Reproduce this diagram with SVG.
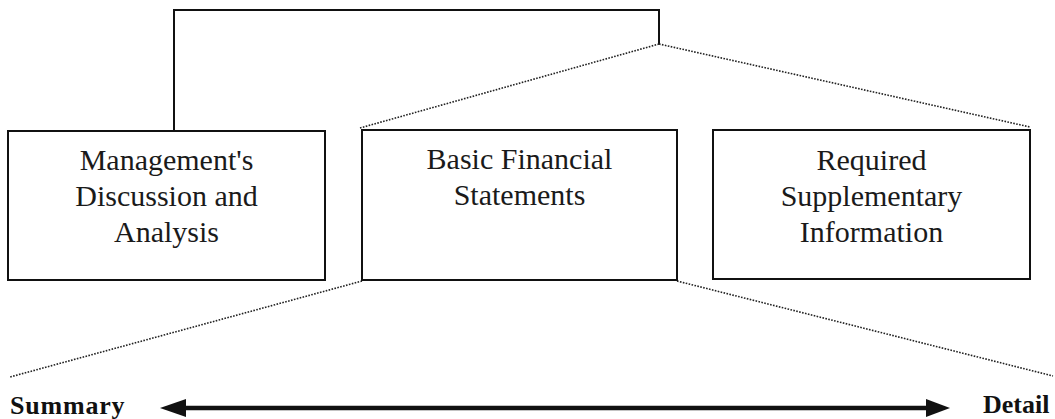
<svg xmlns="http://www.w3.org/2000/svg" width="1055" height="419" viewBox="0 0 1055 419">
<style>
.box{fill:#fff;stroke:#111;stroke-width:2}
.lbl{font-family:"Liberation Serif","Times New Roman",serif;font-size:30px;fill:#1a1a1a;text-anchor:middle}
.end{font-family:"Liberation Serif","Times New Roman",serif;font-size:26px;font-weight:bold;fill:#111}
.solid{fill:none;stroke:#111;stroke-width:2}
.dot{fill:none;stroke:#222;stroke-width:1.6;stroke-dasharray:1.6 1.4}
</style>
<rect width="1055" height="419" fill="#fff"/>
<g id="connectors">
<polyline class="solid" points="174,131 174,10 659,10 659,44"/>
<line class="dot" x1="659" y1="44" x2="360" y2="128"/>
<line class="dot" x1="659" y1="44" x2="1030" y2="127"/>
<line class="dot" x1="362" y1="281" x2="10" y2="377"/>
<line class="dot" x1="677" y1="281" x2="1053" y2="376"/>
<g id="scale-arrow">
<line x1="182" y1="408" x2="930" y2="408" stroke="#111" stroke-width="4.5"/>
<polygon points="160,408 186,399 186,417" fill="#111"/>
<polygon points="950,408 926,399 926,417" fill="#111"/>
</g>
</g>
<g id="mda">
<rect class="box" x="8" y="131" width="317" height="149"/>
<text class="lbl" x="166.5" y="170">Management's</text>
<text class="lbl" x="166.5" y="206">Discussion and</text>
<text class="lbl" x="166.5" y="242">Analysis</text>
</g>
<g id="bfs">
<rect class="box" x="362" y="130" width="315" height="150"/>
<text class="lbl" x="519.5" y="169">Basic Financial</text>
<text class="lbl" x="519.5" y="205">Statements</text>
</g>
<g id="rsi">
<rect class="box" x="713" y="130" width="317" height="149"/>
<text class="lbl" x="871.5" y="170">Required</text>
<text class="lbl" x="871.5" y="206">Supplementary</text>
<text class="lbl" x="871.5" y="242">Information</text>
</g>
<g id="summary"><text class="end" x="10" y="414" letter-spacing="0.8">Summary</text></g>
<g id="detail"><text class="end" x="983" y="413" font-size="24">Detail</text></g>
</svg>
